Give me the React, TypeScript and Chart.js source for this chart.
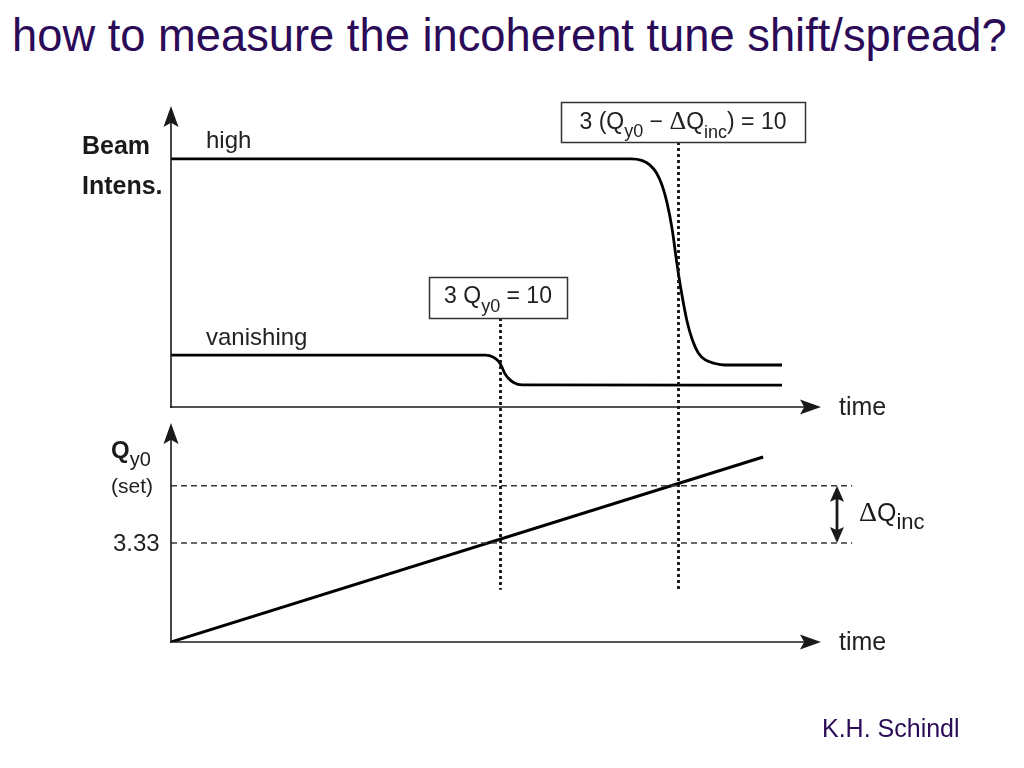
import React, { useEffect, useRef } from "react";
import { Chart, registerables } from "chart.js";

Chart.register(...registerables);

// ---- Top panel: beam intensity versus time ----
const highTime = [0, 70.8, 72.4, 73.6, 74.7, 75.6, 76.3, 77.1, 77.8, 78.6, 79.4, 80.2, 81.1, 82.2, 83.7, 85.2, 94.0];
const highIntensity = [82.7, 82.7, 82.2, 80.8, 78.0, 73.6, 68.2, 59.3, 48.3, 37.4, 28.5, 22.4, 18.1, 15.7, 14.5, 14.0, 14.0];
const vanishingTime = [0, 48.4, 49.6, 50.4, 50.9, 51.3, 51.9, 52.7, 54.0, 94.0];
const vanishingIntensity = [17.3, 17.3, 16.6, 15.2, 13.4, 11.4, 9.6, 8.2, 7.4, 7.3];

// ---- Bottom panel: set tune Qy0 versus time ----
const qTime = [0, 91.1];
const qValue = [0, 6.22];
const qTickValues = [3.33, 5.25];
const qTickLabels = ["3.33", "(set)"];
const dashEndTime = 104.8;

// resonance crossing times (vanishing beam, high-intensity beam)
const markerTimes = [50.6, 78.0];
const markerEndQ = 1.76;
const axisEndTime = 100;

const PURPLE = "#2b0b57";
const INK = "#1a1a1a";
const SANS = "'Liberation Sans', Arial, sans-serif";
const SERIF = "'Liberation Serif', 'Times New Roman', serif";

function arrowHead(ctx: CanvasRenderingContext2D, tx: number, ty: number, dx: number, dy: number, len: number, half: number) {
  const bx = tx - dx * len;
  const by = ty - dy * len;
  const px = -dy;
  const py = dx;
  ctx.beginPath();
  ctx.moveTo(tx, ty);
  ctx.lineTo(bx + px * half, by + py * half);
  ctx.lineTo(bx + dx * len * 0.2, by + dy * len * 0.2);
  ctx.lineTo(bx - px * half, by - py * half);
  ctx.closePath();
  ctx.fill();
}

type Seg = { t: string; font: string; dy?: number };

function richWidth(ctx: CanvasRenderingContext2D, segs: Seg[]) {
  let w = 0;
  for (const s of segs) {
    ctx.font = s.font;
    w += ctx.measureText(s.t).width;
  }
  return w;
}

function drawRich(ctx: CanvasRenderingContext2D, segs: Seg[], x: number, y: number) {
  let cx = x;
  ctx.textAlign = "left";
  ctx.textBaseline = "alphabetic";
  for (const s of segs) {
    ctx.font = s.font;
    ctx.fillText(s.t, cx, y + (s.dy || 0));
    cx += ctx.measureText(s.t).width;
  }
}

function drawAxes(ctx: CanvasRenderingContext2D, chart: any) {
  const xs = chart.scales.x;
  const ys = chart.scales.y;
  const x0 = xs.getPixelForValue(0);
  const y0 = ys.getPixelForValue(ys.min);
  const xEnd = xs.getPixelForValue(axisEndTime);
  const yTop = chart.chartArea.top - 1;
  ctx.strokeStyle = INK;
  ctx.fillStyle = INK;
  ctx.lineWidth = 1.6;
  ctx.setLineDash([]);
  ctx.beginPath();
  ctx.moveTo(x0, y0 + 1);
  ctx.lineTo(x0, yTop + 12);
  ctx.moveTo(x0 - 1, y0);
  ctx.lineTo(xEnd - 12, y0);
  ctx.stroke();
  arrowHead(ctx, x0, yTop, 0, -1, 21, 7.5);
  arrowHead(ctx, xEnd, y0, 1, 0, 21, 7.5);
  ctx.font = `25px ${SANS}`;
  ctx.textAlign = "left";
  ctx.fillStyle = "#222";
  ctx.fillText("time", xEnd + 18, y0 + 8);
}

const topPlugin = {
  id: "topDecor",
  afterDraw(chart: any) {
    const ctx: CanvasRenderingContext2D = chart.ctx;
    ctx.save();
    drawAxes(ctx, chart);
    ctx.fillStyle = INK;
    ctx.textAlign = "left";
    ctx.textBaseline = "alphabetic";
    ctx.font = `bold 25px ${SANS}`;
    ctx.fillText("Beam", 82, 154);
    ctx.fillText("Intens.", 82, 194);
    ctx.font = `24px ${SANS}`;
    ctx.fillStyle = "#222";
    ctx.fillText("high", 206, 148);
    ctx.fillText("vanishing", 206, 345);
    ctx.restore();
  },
};

const bottomPlugin = {
  id: "bottomDecor",
  afterDraw(chart: any) {
    const ctx: CanvasRenderingContext2D = chart.ctx;
    const xs = chart.scales.x;
    const ys = chart.scales.y;
    ctx.save();
    drawAxes(ctx, chart);

    // axis labels
    ctx.fillStyle = INK;
    drawRich(ctx, [
      { t: "Q", font: `bold 24px ${SANS}` },
      { t: "y0", font: `20px ${SANS}`, dy: 8 },
    ], 111, 458);
    ctx.fillStyle = "#222";
    ctx.textAlign = "left";
    ctx.font = `21px ${SANS}`;
    ctx.fillText(qTickLabels[1], 111, ys.getPixelForValue(qTickValues[1]) + 7);
    ctx.font = `24px ${SANS}`;
    ctx.fillText(qTickLabels[0], 113, ys.getPixelForValue(qTickValues[0]) + 8);

    // delta Q arrow
    const ax = 837;
    const ya = ys.getPixelForValue(qTickValues[1]);
    const yb = ys.getPixelForValue(qTickValues[0]);
    ctx.fillStyle = INK;
    ctx.strokeStyle = INK;
    ctx.lineWidth = 2.8;
    ctx.beginPath();
    ctx.moveTo(ax, ya + 10);
    ctx.lineTo(ax, yb - 10);
    ctx.stroke();
    arrowHead(ctx, ax, ya, 0, -1, 16, 7);
    arrowHead(ctx, ax, yb, 0, 1, 16, 7);
    drawRich(ctx, [
      { t: "\u0394", font: `28px ${SERIF}` },
      { t: "Q", font: `25px ${SANS}` },
      { t: "inc", font: `22px ${SANS}`, dy: 8 },
    ], 859, 521);

    // dotted resonance markers
    const boxBottoms = [318, 142];
    ctx.setLineDash([3, 3]);
    ctx.lineWidth = 2.8;
    ctx.strokeStyle = "#111";
    markerTimes.forEach((t, i) => {
      const px = Math.round(xs.getPixelForValue(t)) + 0.5;
      ctx.beginPath();
      ctx.moveTo(px, boxBottoms[i]);
      ctx.lineTo(px, ys.getPixelForValue(markerEndQ));
      ctx.stroke();
    });
    ctx.setLineDash([]);

    // boxes
    const boxes = [
      { l: 429, t: 277, w: 138, h: 41, segs: [
        { t: "3 Q", font: `23px ${SANS}` },
        { t: "y0", font: `18px ${SANS}`, dy: 9 },
        { t: " = 10", font: `23px ${SANS}` },
      ], base: 303 },
      { l: 561, t: 102, w: 244, h: 40, segs: [
        { t: "3 (Q", font: `23px ${SANS}` },
        { t: "y0", font: `18px ${SANS}`, dy: 8 },
        { t: " \u2212 ", font: `23px ${SANS}` },
        { t: "\u0394", font: `26px ${SERIF}` },
        { t: "Q", font: `23px ${SANS}` },
        { t: "inc", font: `18px ${SANS}`, dy: 9 },
        { t: ") = 10", font: `23px ${SANS}` },
      ], base: 129 },
    ];
    for (const b of boxes) {
      ctx.fillStyle = "#fff";
      ctx.fillRect(b.l, b.t, b.w, b.h);
      ctx.strokeStyle = "#333";
      ctx.lineWidth = 1.5;
      ctx.strokeRect(b.l + 0.5, b.t + 0.5, b.w, b.h);
      ctx.fillStyle = "#222";
      const w = richWidth(ctx, b.segs);
      drawRich(ctx, b.segs, b.l + (b.w - w) / 2, b.base);
    }
    ctx.restore();
  },
};

function baseOptions(padding: any, yMax: number) {
  return {
    responsive: false,
    animation: false as const,
    devicePixelRatio: 1,
    events: [],
    layout: { padding },
    plugins: {
      legend: { display: false },
      tooltip: { enabled: false },
      title: { display: false },
    },
    scales: {
      x: { type: "linear" as const, min: 0, max: 110, display: false },
      y: { type: "linear" as const, min: 0, max: yMax, display: false },
    },
    elements: { point: { radius: 0 } },
  };
}

const toXY = (xs: number[], ys: number[]) => xs.map((x, i) => ({ x, y: ys[i] }));

export default function App() {
  const topRef = useRef<HTMLCanvasElement>(null);
  const botRef = useRef<HTMLCanvasElement>(null);

  useEffect(() => {
    const top = new Chart(topRef.current as HTMLCanvasElement, {
      type: "line",
      data: {
        datasets: [
          {
            label: "high",
            data: toXY(highTime, highIntensity),
            borderColor: "#000",
            borderWidth: 2.8,
            pointRadius: 0,
            cubicInterpolationMode: "monotone",
            fill: false,
          },
          {
            label: "vanishing",
            data: toXY(vanishingTime, vanishingIntensity),
            borderColor: "#000",
            borderWidth: 2.8,
            pointRadius: 0,
            cubicInterpolationMode: "monotone",
            fill: false,
          },
        ],
      },
      options: baseOptions({ left: 171, right: 138, top: 107, bottom: 361 }, 100) as any,
      plugins: [topPlugin],
    });

    const dashed = (v: number) => ({
      label: "ref " + v,
      data: [
        { x: 0, y: v },
        { x: dashEndTime, y: v },
      ],
      borderColor: "#3a3a3a",
      borderWidth: 1.5,
      borderDash: [6, 4],
      pointRadius: 0,
      fill: false,
    });

    const bot = new Chart(botRef.current as HTMLCanvasElement, {
      type: "line",
      data: {
        datasets: [
          dashed(qTickValues[1]),
          dashed(qTickValues[0]),
          {
            label: "Qy0",
            data: toXY(qTime, qValue),
            borderColor: "#000",
            borderWidth: 3,
            pointRadius: 0,
            fill: false,
          },
        ],
      },
      options: baseOptions({ left: 171, right: 138, top: 424, bottom: 126 }, 7.33) as any,
      plugins: [bottomPlugin],
    });

    return () => {
      top.destroy();
      bot.destroy();
    };
  }, []);

  const canvasStyle: React.CSSProperties = { position: "absolute", left: 0, top: 0, width: 1024, height: 768 };

  return (
    <div style={{ position: "absolute", left: 0, top: 0, width: 1024, height: 768, background: "#fff", overflow: "hidden" }}>
      <div
        style={{
          position: "absolute",
          left: 12,
          top: 13,
          font: `45.3px ${SANS}`,
          lineHeight: "45px",
          color: PURPLE,
          whiteSpace: "nowrap",
        }}
      >
        how to measure the incoherent tune shift/spread?
      </div>
      <canvas ref={topRef} width={1024} height={768} style={canvasStyle} />
      <canvas ref={botRef} width={1024} height={768} style={canvasStyle} />
      <div
        style={{
          position: "absolute",
          left: 822,
          top: 716,
          font: `25px ${SANS}`,
          lineHeight: "25px",
          color: PURPLE,
          whiteSpace: "nowrap",
        }}
      >
        K.H. Schindl
      </div>
    </div>
  );
}
